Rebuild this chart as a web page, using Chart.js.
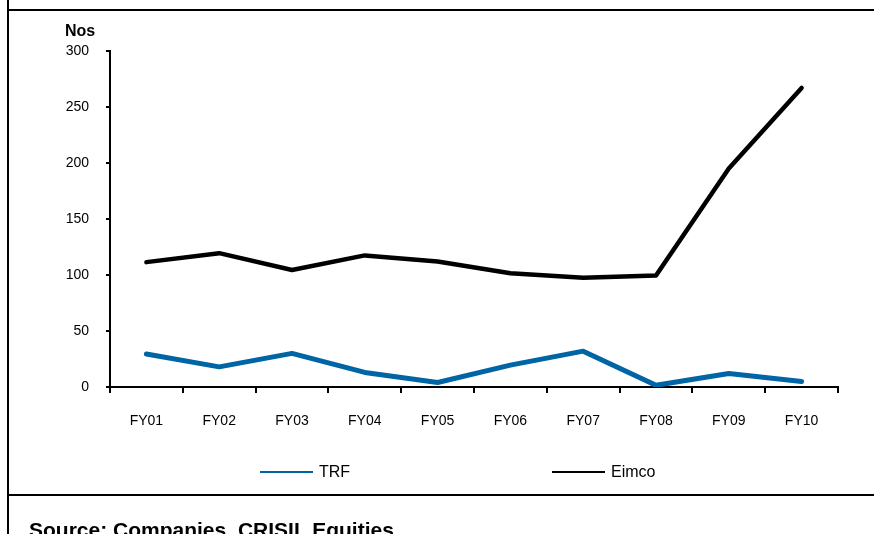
<!DOCTYPE html>
<html>
<head>
<meta charset="utf-8">
<script src="https://cdn.jsdelivr.net/npm/chart.js@4/dist/chart.umd.min.js"></script>
<style>
  html, body { margin:0; padding:0; background:#fff; }
  body { width:874px; height:534px; position:relative; overflow:hidden; font-family:"Liberation Sans", Arial, sans-serif; }
  #c { position:absolute; left:0; top:0; }
  .ln { position:absolute; background:#000; }
  #nos { position:absolute; left:65px; top:22px; font-weight:bold; font-size:16px; color:#000; }
  #src { position:absolute; left:29px; top:518px; font-weight:bold; font-size:21px; color:#000; white-space:nowrap; }
</style>
</head>
<body>
<div class="ln" style="left:7px;top:0;width:2px;height:534px;"></div>
<div class="ln" style="left:7px;top:9px;width:867px;height:2px;"></div>
<div class="ln" style="left:7px;top:494px;width:867px;height:2px;"></div>
<canvas id="c" width="874" height="534"></canvas>
<div id="nos">Nos</div>
<div id="src">Source: Companies, CRISIL Equities</div>
<script>
const categories = ["FY01","FY02","FY03","FY04","FY05","FY06","FY07","FY08","FY09","FY10"];
const trfValues = [29.5, 18, 30, 13, 4, 19.5, 32, 1.5, 12, 5];
const eimcoValues = [111.5, 119.5, 104.5, 117.5, 112, 101.5, 97.5, 99.5, 195, 267];
const yTicks = [0, 50, 100, 150, 200, 250, 300];

const FONT = '"Liberation Sans", Arial, sans-serif';

const legendPlugin = {
  id: 'customLegend',
  afterDraw(chart) {
    const ctx = chart.ctx;
    const items = [
      { ds: chart.data.datasets[0], x: 260 },
      { ds: chart.data.datasets[1], x: 552 }
    ];
    ctx.save();
    items.forEach(it => {
      const y = 472;
      ctx.strokeStyle = it.ds.borderColor;
      ctx.lineWidth = 2;
      ctx.beginPath();
      ctx.moveTo(it.x, y);
      ctx.lineTo(it.x + 53, y);
      ctx.stroke();
      ctx.fillStyle = '#000';
      ctx.font = '16px ' + FONT;
      ctx.textBaseline = 'middle';
      ctx.textAlign = 'left';
      ctx.fillText(it.ds.label, it.x + 59, y + 1);
    });
    ctx.restore();
  }
};

new Chart(document.getElementById('c'), {
  type: 'line',
  data: {
    labels: categories,
    datasets: [
      { label: 'TRF', data: trfValues, borderColor: 'rgb(0,101,164)', borderWidth: 5, pointRadius: 0, tension: 0, fill: false, borderCapStyle: 'round', borderJoinStyle: 'round' },
      { label: 'Eimco', data: eimcoValues, borderColor: '#000000', borderWidth: 4.5, pointRadius: 0, tension: 0, fill: false, borderCapStyle: 'round', borderJoinStyle: 'round' }
    ]
  },
  options: {
    responsive: false,
    devicePixelRatio: 1,
    animation: false,
    layout: { padding: { left: 0, top: 51, right: 36, bottom: 0 } },
    plugins: { legend: { display: false }, tooltip: { enabled: false } },
    scales: {
      x: {
        offset: true,
        grid: { offset: true, drawOnChartArea: false, drawTicks: true, tickLength: 6, color: '#000', lineWidth: 2 },
        border: { display: true, color: '#000', width: 2 },
        ticks: { color: '#000', font: { family: FONT, size: 14 }, padding: 20, maxRotation: 0 },
        afterFit(scale) { scale.height = 147; }
      },
      y: {
        min: 0, max: 300,
        afterBuildTicks(scale) { scale.ticks = yTicks.map(v => ({ value: v })); },
        grid: { drawOnChartArea: false, drawTicks: true, tickLength: 4, color: '#000', lineWidth: 2 },
        border: { display: true, color: '#000', width: 2 },
        ticks: { color: '#000', font: { family: FONT, size: 14 }, padding: 17 },
        afterFit(scale) { scale.width = 110; }
      }
    }
  },
  plugins: [legendPlugin]
});
</script>
</body>
</html>
